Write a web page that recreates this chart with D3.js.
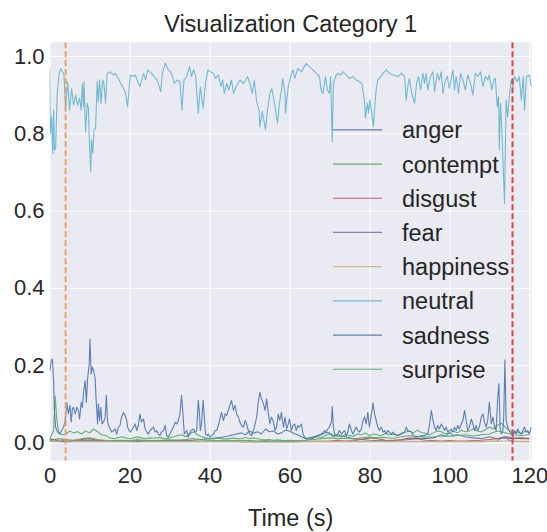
<!DOCTYPE html>
<html>
<head>
<meta charset="utf-8">
<script src="https://cdn.jsdelivr.net/npm/d3@7/dist/d3.min.js"></script>
<style>
  body { margin: 0; background: #fff; }
  text { font-family: "Liberation Sans", Arial, sans-serif; fill: #262626; }
  .grid line { stroke: #fff; stroke-width: 1; }
  .grid path { display: none; }
</style>
</head>
<body>
<div id="chart"></div>
<script>

// emotion series, one [time (s), probability] pair per sample
const emotions = ["anger", "contempt", "disgust", "fear", "happiness", "neutral", "sadness", "surprise"];
const colors   = ["#4c72b0", "#55a868", "#c44e52", "#8172b2", "#ccb974", "#64b5cd", "#4c72b0", "#55a868"];
const xTicks = [0, 20, 40, 60, 80, 100, 120];
const yTicks = [0.0, 0.2, 0.4, 0.6, 0.8, 1.0];
const markerTimes  = [4.0, 115.8];
const markerColors = ["#e6a566", "#d9454a"];

const neutral = [
  [0,0.968],[0.2,0.800],[0.5,0.843],[0.8,0.748],[1.0,0.860],[1.2,0.757],[1.5,0.761],[1.9,0.903],[2.4,0.955],[2.8,0.968],
  [3.2,0.959],[3.6,0.951],[4.0,0.856],[4.5,0.934],[5.0,0.860],[5.5,0.916],[6.0,0.873],[6.5,0.899],[7.0,0.873],[7.5,0.891],
  [7.9,0.860],[8.2,0.929],[8.5,0.869],[8.6,0.934],[9.0,0.804],[9.4,0.878],[9.7,0.865],[9.9,0.796],[10.3,0.701],[10.5,0.783],
  [10.8,0.748],[11.1,0.809],[11.5,0.813],[11.9,0.934],[12.2,0.882],[12.5,0.938],[12.9,0.878],[13.3,0.938],[13.6,0.929],[14.0,0.878],
  [14.4,0.955],[15.1,0.959],[16.0,0.951],[16.5,0.955],[17.4,0.938],[18.2,0.921],[18.9,0.908],[19.5,0.869],[20.2,0.951],[20.7,0.947],
  [21.4,0.951],[22.6,0.921],[23.5,0.955],[24.0,0.938],[24.5,0.964],[25.5,0.955],[26.9,0.938],[27.8,0.908],[28.2,0.955],[28.9,0.981],
  [29.7,0.964],[30.5,0.955],[31.2,0.929],[32.0,0.938],[32.6,0.934],[33.1,0.860],[33.6,0.938],[34.3,0.947],[35.0,0.972],[35.5,0.947],
  [36.0,0.964],[36.5,0.951],[37.2,0.852],[37.7,0.921],[38.4,0.865],[39.0,0.929],[39.6,0.964],[40.3,0.959],[41.0,0.955],[41.5,0.942],
  [42.2,0.951],[42.9,0.921],[43.3,0.938],[43.7,0.903],[44.3,0.929],[44.8,0.912],[45.5,0.938],[46.0,0.903],[46.7,0.921],[47.6,0.938],
  [48.5,0.929],[49.5,0.947],[50.1,0.929],[50.7,0.903],[51.2,0.938],[51.8,0.882],[52.4,0.860],[52.6,0.817],[53.2,0.856],[53.6,0.834],
  [54.0,0.809],[54.5,0.860],[55.1,0.903],[55.6,0.916],[56.4,0.869],[57.0,0.826],[57.5,0.878],[58.0,0.912],[58.3,0.942],[58.9,0.903],
  [59.0,0.852],[59.7,0.921],[60.5,0.955],[60.9,0.964],[61.3,0.942],[62.1,0.968],[63.0,0.959],[64.2,0.981],[65.0,0.972],[65.9,0.964],
  [66.7,0.955],[67.5,0.947],[68.0,0.908],[68.4,0.903],[69.0,0.947],[69.5,0.912],[70.0,0.903],[70.3,0.947],[70.7,0.778],[71.0,0.929],
  [71.7,0.951],[72.1,0.955],[72.8,0.951],[73.4,0.959],[74.2,0.951],[75.0,0.942],[75.9,0.947],[76.7,0.938],[77.5,0.934],[78.1,0.929],
  [78.8,0.882],[79.0,0.839],[79.5,0.878],[79.8,0.852],[80.1,0.886],[80.5,0.860],[80.8,0.834],[81.0,0.817],[81.5,0.891],[81.8,0.921],
  [82.1,0.938],[82.5,0.942],[83.4,0.955],[84.2,0.964],[85.0,0.955],[85.9,0.951],[87.1,0.947],[88.0,0.955],[88.8,0.947],[89.2,0.886],
  [89.6,0.921],[90.0,0.942],[90.6,0.903],[91.3,0.878],[91.8,0.929],[92.3,0.947],[92.8,0.912],[93.4,0.955],[93.8,0.929],[94.2,0.955],
  [94.6,0.912],[95.3,0.947],[95.9,0.959],[96.3,0.908],[97.0,0.955],[97.5,0.938],[98.0,0.959],[98.4,0.903],[99.0,0.938],[99.5,0.947],
  [100.0,0.916],[100.9,0.964],[101.3,0.912],[101.7,0.947],[102.3,0.903],[102.8,0.955],[103.4,0.938],[104.0,0.912],[104.6,0.951],[105.3,0.929],
  [105.9,0.899],[106.5,0.955],[107.1,0.947],[107.8,0.959],[108.4,0.921],[109.0,0.947],[109.6,0.938],[110.0,0.951],[110.6,0.912],[111.1,0.938],
  [111.5,0.942],[112.0,0.869],[112.3,0.895],[112.5,0.757],[112.8,0.878],[113.1,0.817],[113.8,0.619],[114.2,0.886],[114.6,0.843],[115.0,0.895],
  [115.5,0.938],[115.9,0.921],[116.3,0.947],[117.0,0.934],[117.5,0.947],[118.0,0.886],[118.5,0.947],[118.8,0.860],[119.3,0.947],[120.0,0.951],
  [120.5,0.921]
];

const sadness = [
  [0.1,0.186],[0.4,0.212],[0.7,0.216],[1.0,0.160],[1.2,0.083],[1.5,0.040],[2.0,0.027],[2.6,0.022],[3.0,0.031],[3.5,0.040],
  [3.9,0.057],[4.3,0.104],[4.7,0.074],[5.1,0.096],[5.4,0.053],[5.7,0.087],[6.0,0.091],[6.4,0.074],[6.8,0.091],[7.2,0.083],
  [7.5,0.061],[7.9,0.104],[8.2,0.091],[8.5,0.130],[8.9,0.160],[9.2,0.104],[9.5,0.165],[9.9,0.203],[10.1,0.268],[10.4,0.178],
  [10.7,0.195],[11.0,0.186],[11.4,0.165],[11.6,0.117],[12.0,0.048],[12.2,0.100],[12.5,0.057],[12.8,0.091],[13.1,0.048],[13.5,0.053],
  [13.9,0.066],[14.2,0.122],[14.5,0.053],[14.9,0.040],[15.2,0.035],[15.5,0.027],[16.0,0.031],[16.4,0.035],[16.8,0.022],[17.2,0.040],
  [17.6,0.044],[18.0,0.066],[18.5,0.078],[18.9,0.070],[19.3,0.057],[19.5,0.040],[19.9,0.031],[20.2,0.027],[20.7,0.035],[21.0,0.040],
  [21.4,0.048],[21.8,0.031],[22.2,0.044],[22.6,0.074],[23.0,0.053],[23.5,0.061],[23.9,0.035],[24.3,0.027],[24.7,0.022],[25.1,0.031],
  [25.5,0.035],[26.0,0.040],[26.4,0.027],[26.8,0.031],[27.2,0.022],[27.6,0.018],[28.0,0.027],[28.5,0.031],[28.9,0.044],[29.3,0.018],
  [29.7,0.014],[30.1,0.022],[30.5,0.031],[31.0,0.040],[31.4,0.053],[31.8,0.048],[32.2,0.057],[32.6,0.074],[33.0,0.122],[33.3,0.083],
  [33.7,0.022],[34.3,0.031],[34.7,0.014],[35.4,0.031],[36.0,0.035],[36.4,0.027],[36.8,0.031],[37.2,0.109],[37.5,0.074],[37.7,0.031],
  [38.0,0.048],[38.4,0.109],[38.7,0.066],[39.0,0.022],[39.4,0.018],[39.7,0.022],[40.1,0.014],[40.5,0.018],[41.0,0.022],[41.4,0.031],
  [41.8,0.031],[42.2,0.044],[42.6,0.061],[43.0,0.078],[43.5,0.057],[43.9,0.074],[44.3,0.070],[44.7,0.083],[45.1,0.096],[45.5,0.109],
  [46.0,0.083],[46.4,0.096],[46.8,0.074],[47.2,0.066],[47.6,0.053],[48.0,0.044],[48.5,0.040],[48.9,0.057],[49.3,0.048],[49.7,0.031],
  [50.1,0.022],[50.5,0.018],[51.0,0.031],[51.4,0.048],[51.8,0.066],[52.2,0.104],[52.6,0.130],[53.0,0.113],[53.5,0.100],[53.9,0.083],
  [54.3,0.113],[54.7,0.078],[55.1,0.048],[55.5,0.066],[56.0,0.053],[56.4,0.031],[56.8,0.040],[57.2,0.074],[57.6,0.057],[58.0,0.078],
  [58.5,0.040],[58.9,0.066],[59.3,0.035],[59.7,0.048],[60.0,0.061],[60.5,0.031],[60.9,0.044],[61.3,0.048],[61.7,0.031],[62.1,0.044],
  [62.5,0.040],[63.0,0.048],[63.4,0.022],[63.8,0.014],[64.6,0.009],[65.5,0.009],[66.3,0.014],[67.1,0.018],[68.0,0.022],[68.8,0.031],
  [69.2,0.027],[69.6,0.035],[70.0,0.040],[70.5,0.053],[70.7,0.093],[71.0,0.040],[71.3,0.022],[71.7,0.018],[72.1,0.022],[72.5,0.031],
  [73.0,0.022],[73.4,0.027],[73.8,0.031],[74.2,0.018],[74.6,0.027],[75.0,0.048],[75.5,0.031],[75.9,0.022],[76.3,0.031],[76.7,0.040],
  [77.1,0.031],[77.5,0.027],[78.0,0.035],[78.4,0.057],[78.8,0.066],[79.2,0.048],[79.6,0.078],[80.0,0.040],[80.5,0.074],[80.9,0.102],
  [81.3,0.074],[81.7,0.057],[82.1,0.040],[82.5,0.031],[83.0,0.040],[83.4,0.027],[83.8,0.031],[84.2,0.022],[84.6,0.031],[85.0,0.027],
  [85.5,0.022],[85.9,0.027],[86.3,0.022],[87.1,0.018],[88.0,0.022],[88.8,0.027],[89.2,0.040],[89.6,0.031],[90.5,0.027],[90.9,0.018],
  [91.3,0.014],[92.1,0.014],[93.0,0.018],[93.8,0.018],[94.6,0.022],[95.0,0.044],[95.5,0.083],[95.9,0.057],[96.3,0.040],[96.7,0.031],
  [97.1,0.044],[97.5,0.035],[98.0,0.048],[98.4,0.040],[98.8,0.031],[99.2,0.040],[99.6,0.027],[100.0,0.031],[100.5,0.035],[100.9,0.027],
  [101.3,0.040],[101.7,0.031],[102.1,0.044],[102.5,0.035],[103.0,0.048],[103.4,0.057],[103.8,0.083],[104.2,0.057],[104.6,0.031],[105.0,0.040],
  [105.5,0.061],[105.9,0.048],[106.3,0.031],[106.7,0.044],[107.1,0.031],[107.5,0.040],[108.0,0.066],[108.4,0.074],[108.8,0.053],[109.2,0.040],
  [109.6,0.057],[110.0,0.104],[110.5,0.048],[110.9,0.066],[111.3,0.040],[111.7,0.031],[112.1,0.117],[112.4,0.152],[112.7,0.040],[113.0,0.022],
  [113.4,0.031],[113.6,0.066],[113.9,0.214],[114.2,0.057],[114.6,0.040],[115.0,0.031],[115.5,0.022],[115.9,0.014],[116.3,0.031],[116.7,0.022],
  [117.1,0.035],[117.5,0.027],[118.0,0.022],[118.4,0.031],[118.8,0.040],[119.2,0.027],[119.6,0.031],[120.0,0.022],[120.5,0.040]
];

const anger = [
  [0,0.010],[2,0.005],[4,0.004],[6,0.004],[8,0.005],[10,0.006],[12,0.005],[14,0.004],[16,0.004],[18,0.005],
  [20,0.004],[22,0.004],[24,0.005],[26,0.004],[28,0.005],[30,0.005],[32,0.006],[34,0.005],[36,0.006],[38,0.008],
  [40,0.010],[42,0.012],[44,0.015],[46,0.020],[48,0.025],[49,0.020],[50,0.030],[51,0.024],[52,0.028],[53,0.022],
  [54,0.035],[55,0.028],[56,0.030],[57,0.022],[58,0.025],[59,0.032],[60,0.030],[61,0.024],[62,0.020],[64,0.010],
  [66,0.015],[68,0.020],[69,0.026],[70,0.025],[71,0.018],[72,0.020],[74,0.015],[76,0.010],[78,0.008],[80,0.006],
  [82,0.005],[84,0.005],[86,0.006],[88,0.006],[90,0.008],[92,0.010],[94,0.010],[96,0.012],[98,0.020],[99,0.016],
  [100,0.025],[101,0.018],[102,0.020],[104,0.015],[106,0.012],[108,0.010],[110,0.015],[112,0.010],[114,0.012],[116,0.010],
  [118,0.012],[120,0.010]
];

const contempt = [
  [0,0.010],[1,0.030],[1.4,0.120],[1.8,0.060],[2.3,0.025],[3,0.020],[4,0.020],[5,0.030],[6,0.025],[7,0.028],
  [8,0.022],[9,0.030],[10,0.025],[11,0.035],[12,0.028],[13,0.020],[14,0.018],[15,0.012],[16,0.010],[17,0.012],
  [18,0.015],[19,0.012],[20,0.010],[21,0.012],[22,0.015],[23,0.012],[24,0.010],[25,0.012],[26,0.011],[27,0.013],
  [28,0.012],[29,0.010],[30,0.012],[31,0.015],[32,0.018],[33,0.020],[34,0.015],[35,0.022],[36,0.028],[37,0.020],
  [38,0.015],[39,0.012],[40,0.010],[41,0.010],[42,0.012],[43,0.010],[44,0.009],[45,0.010],[46,0.012],[47,0.010],
  [48,0.011],[49,0.013],[50,0.010],[51,0.012],[52,0.010],[53,0.008],[54,0.007],[55,0.008],[56,0.006],[57,0.007],
  [58,0.006],[59,0.005],[60,0.006],[61,0.005],[62,0.004],[63,0.005],[64,0.006],[65,0.008],[66,0.012],[67,0.015],
  [68,0.013],[69,0.018],[70,0.022],[71,0.015],[72,0.017],[73,0.014],[74,0.020],[75,0.018],[76,0.016],[77,0.022],
  [78,0.020],[79,0.025],[80,0.018],[81,0.022],[82,0.020],[83,0.017],[84,0.024],[85,0.020],[86,0.022],[87,0.018],
  [88,0.024],[89,0.027],[90,0.030],[91,0.025],[92,0.032],[93,0.026],[94,0.024],[95,0.020],[96,0.025],[97,0.030],
  [98,0.028],[99,0.022],[100,0.026],[101,0.030],[102,0.025],[103,0.032],[104,0.028],[105,0.030],[106,0.035],[107,0.030],
  [108,0.028],[109,0.033],[110,0.040],[111,0.035],[112,0.045],[113,0.050],[114,0.040],[115,0.030],[116,0.025],[117,0.028],
  [118,0.022],[119,0.030],[120,0.025]
];

const surprise = [
  [0,0.005],[2,0.010],[4,0.008],[6,0.006],[8,0.010],[10,0.012],[12,0.008],[14,0.006],[16,0.005],[18,0.006],
  [20,0.005],[22,0.007],[24,0.006],[26,0.005],[28,0.006],[30,0.007],[32,0.006],[34,0.008],[36,0.010],[38,0.007],
  [40,0.006],[42,0.005],[44,0.006],[46,0.005],[48,0.006],[50,0.005],[52,0.004],[54,0.005],[56,0.004],[58,0.005],
  [60,0.004],[62,0.005],[64,0.006],[66,0.008],[68,0.010],[70,0.012],[72,0.010],[74,0.011],[76,0.009],[78,0.012],
  [80,0.014],[82,0.012],[84,0.013],[86,0.011],[88,0.015],[90,0.018],[92,0.016],[94,0.014],[96,0.015],[98,0.017],
  [100,0.016],[102,0.018],[104,0.020],[106,0.017],[108,0.020],[110,0.022],[112,0.030],[114,0.025],[116,0.020],[118,0.018],
  [120,0.020]
];

const disgust = [
  [0,0.008],[2,0.006],[4,0.004],[6,0.005],[8,0.008],[10,0.010],[12,0.006],[14,0.004],[16,0.003],[18,0.004],
  [20,0.003],[22,0.004],[24,0.003],[26,0.003],[28,0.003],[30,0.003],[32,0.003],[34,0.003],[36,0.003],[38,0.003],
  [40,0.003],[42,0.003],[44,0.003],[46,0.003],[48,0.002],[50,0.002],[52,0.002],[54,0.002],[56,0.002],[58,0.002],
  [60,0.002],[62,0.002],[64,0.003],[66,0.003],[68,0.003],[70,0.004],[72,0.006],[74,0.004],[76,0.005],[78,0.008],
  [80,0.012],[82,0.010],[84,0.006],[86,0.005],[88,0.008],[90,0.012],[92,0.010],[94,0.006],[96,0.005],[98,0.004],
  [100,0.005],[102,0.004],[104,0.004],[106,0.005],[108,0.006],[110,0.008],[112,0.010],[114,0.015],[116,0.012],[118,0.010],
  [120,0.010]
];

const fear = [
  [0,0.003],[4,0.002],[8,0.003],[12,0.002],[16,0.002],[20,0.002],[24,0.002],[28,0.002],[32,0.002],[36,0.002],
  [40,0.002],[44,0.002],[48,0.002],[52,0.002],[56,0.002],[60,0.002],[64,0.002],[68,0.002],[72,0.002],[76,0.002],
  [80,0.002],[84,0.002],[88,0.002],[92,0.002],[96,0.002],[100,0.002],[104,0.002],[108,0.002],[110,0.003],[112,0.004],
  [113,0.012],[114,0.015],[115,0.006],[116,0.003],[118,0.002],[120,0.002]
];

const happiness = [
  [0,0.004],[2,0.003],[3.5,0.008],[4,0.010],[4.5,0.005],[6,0.003],[10,0.003],[14,0.003],[18,0.003],[21.5,0.004],
  [22,0.012],[22.5,0.004],[26,0.003],[30,0.003],[34,0.003],[38,0.003],[42,0.003],[46,0.003],[50,0.003],[54,0.003],
  [58,0.003],[62,0.003],[66,0.003],[70,0.003],[74,0.003],[78,0.003],[82,0.003],[86,0.003],[90,0.003],[94,0.003],
  [98,0.003],[102,0.003],[106,0.003],[110,0.003],[114,0.004],[118,0.003],[120,0.003]
];

const series = [anger, contempt, disgust, fear, happiness, neutral, sadness, surprise];

// plot frame
const W = 547, H = 532;
const margin = { left: 49.6, top: 42.3, right: 15.3, bottom: 71.3 };
const width  = W - margin.left - margin.right;
const height = H - margin.top - margin.bottom;

const svg = d3.select("#chart").append("svg")
    .attr("width", W).attr("height", H);

const g = svg.append("g")
    .attr("transform", "translate(" + margin.left + "," + margin.top + ")");

const x = d3.scaleLinear().domain([0, 120.6]).range([0, width]);
const y = d3.scaleLinear().domain([-0.047, 1.0355]).range([height, 0]);

g.append("rect")
    .attr("width", width).attr("height", height)
    .attr("fill", "#eaeaf2");

// grid lines
g.append("g").attr("class", "grid")
    .attr("transform", "translate(0," + height + ")")
    .call(d3.axisBottom(x).tickValues(xTicks).tickSize(-height).tickFormat(""));
g.append("g").attr("class", "grid")
    .call(d3.axisLeft(y).tickValues(yTicks).tickSize(-width).tickFormat(""));

// tick labels
const xAxis = g.append("g")
    .attr("transform", "translate(0," + height + ")")
    .call(d3.axisBottom(x).tickValues(xTicks).tickSize(0).tickPadding(7).tickFormat(d3.format("d")));
const yAxis = g.append("g")
    .call(d3.axisLeft(y).tickValues(yTicks).tickSize(0).tickPadding(5).tickFormat(d3.format(".1f")));
[xAxis, yAxis].forEach(a => {
    a.select(".domain").remove();
    a.selectAll("text").style("font-size", "22px").attr("fill", "#262626");
});

g.append("defs").append("clipPath").attr("id", "plotclip")
    .append("rect").attr("width", width).attr("height", height);

const line = d3.line()
    .x(d => x(d[0]))
    .y(d => y(d[1]));

const lines = g.append("g").attr("clip-path", "url(#plotclip)");

series.forEach((s, i) => {
    lines.append("path")
        .datum(s)
        .attr("fill", "none")
        .attr("stroke", colors[i])
        .attr("stroke-width", 1.1)
        .attr("stroke-opacity", 0.9)
        .attr("stroke-linejoin", "round")
        .attr("d", line);
});

// event markers
markerTimes.forEach((t, i) => {
    lines.append("line")
        .attr("x1", x(t)).attr("x2", x(t))
        .attr("y1", 0).attr("y2", height)
        .attr("stroke", markerColors[i])
        .attr("stroke-width", 2)
        .attr("stroke-dasharray", "6,3");
});

// legend (no frame)
const legend = g.append("g")
    .attr("transform", "translate(" + x(70.9) + "," + y(0.809) + ")");
const rowH = 34.2;
emotions.forEach((name, i) => {
    const row = legend.append("g").attr("transform", "translate(0," + (i * rowH) + ")");
    row.append("line")
        .attr("x1", 0).attr("x2", 49)
        .attr("stroke", colors[i]).attr("stroke-width", 1.2).attr("stroke-opacity", 0.9);
    row.append("text")
        .attr("x", 69).attr("dy", "0.36em")
        .style("font-size", "23.5px")
        .text(name);
});

// title and axis label
svg.append("text")
    .attr("x", margin.left + width / 2).attr("y", 32)
    .attr("text-anchor", "middle")
    .style("font-size", "23.5px")
    .text("Visualization Category 1");

svg.append("text")
    .attr("x", margin.left + width / 2).attr("y", 526)
    .attr("text-anchor", "middle")
    .style("font-size", "23.5px")
    .text("Time (s)");

</script>
</body>
</html>
